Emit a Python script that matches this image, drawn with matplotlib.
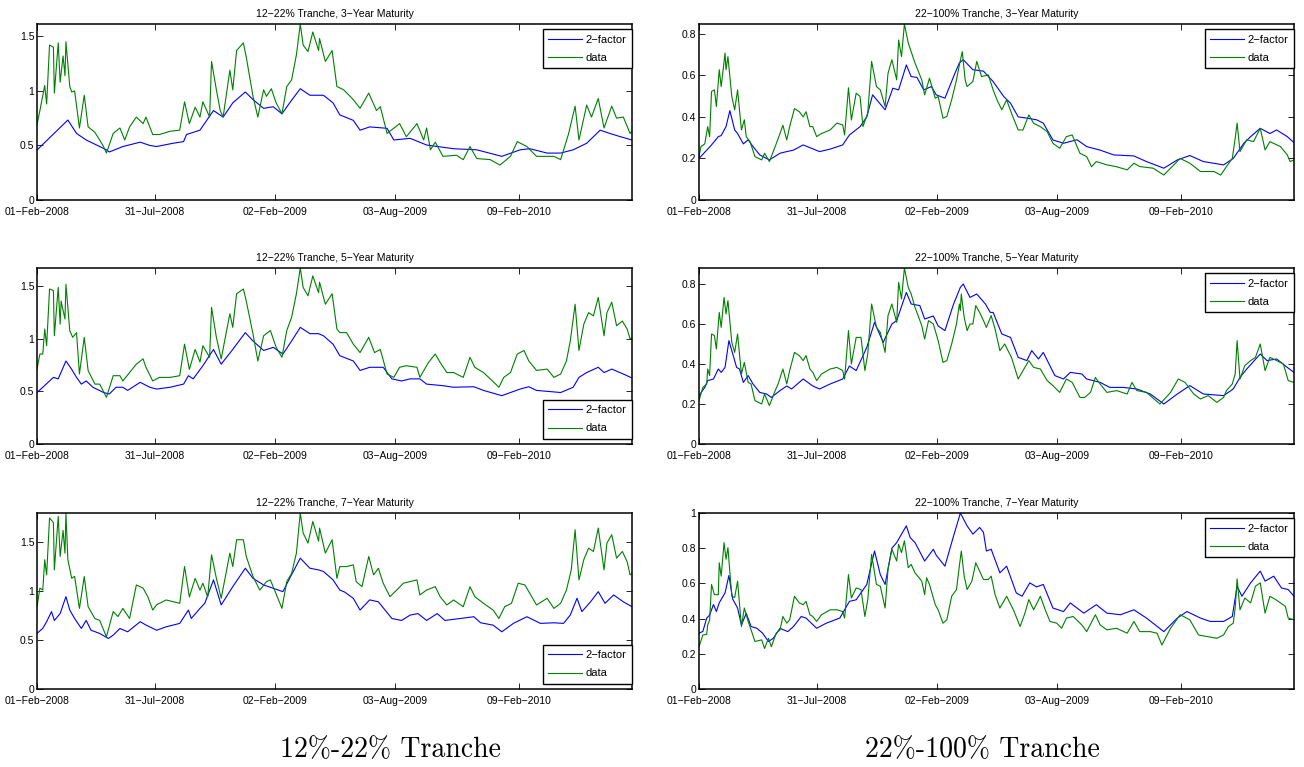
import matplotlib
matplotlib.use('Agg')
import matplotlib.pyplot as plt
from matplotlib.ticker import FuncFormatter

plt.rcParams['font.family'] = ['Liberation Sans', 'DejaVu Sans']

# ---------------- shared axis data ----------------
n_days = 617
tick_pos = [0, 122, 247, 371, 500]
tick_labels = ['01−Feb−2008', '31−Jul−2008', '02−Feb−2009', '03−Aug−2009', '09−Feb−2010']
series_names = ['2−factor', 'data']
captions = ['12%-22% Tranche', '22%-100% Tranche']

# ---------------- 12-22% tranche, 3-year ----------------
p1_fac_x = [0, 32, 41, 51, 65, 72, 75, 89, 107, 117, 124, 141, 152, 155, 169, 183, 193, 203, 216, 224, 235, 245, 254, 262, 273, 283, 292,
            297, 307, 314, 328, 335, 345, 363, 370, 387, 404, 432, 456, 482, 501, 511, 529, 543, 556, 570, 584, 594, 605, 617]
p1_fac_y = [0.458, 0.733, 0.61, 0.55, 0.49, 0.46, 0.44, 0.49, 0.53, 0.50, 0.49, 0.52, 0.535, 0.6, 0.64, 0.82, 0.76, 0.89, 0.99, 0.92, 0.84, 0.855, 0.79, 0.89, 1.02, 0.96, 0.96,
            0.96, 0.89, 0.78, 0.73, 0.64, 0.67, 0.657, 0.55, 0.565, 0.504, 0.47, 0.46, 0.40, 0.46, 0.47, 0.43, 0.43, 0.46, 0.52, 0.64, 0.61, 0.58, 0.55]
p1_dat_x = [0, 3, 8, 10, 13, 17, 18, 22, 24, 27, 29, 30, 34, 36, 39, 44, 49, 53, 60, 65, 69, 72, 79, 86, 91, 96, 103, 110, 113, 120, 127, 138, 148,
            153, 158, 164, 169, 172, 179, 181, 186, 190, 193, 200, 203, 207, 214, 217, 224, 229, 235, 238, 243, 248, 254, 259, 264, 269, 273, 276, 281, 286, 292,
            293, 299, 306, 311, 318, 328, 335, 344, 352, 356, 363, 376, 383, 394, 401, 404, 408, 413, 421, 435, 442, 449, 456, 470, 480, 491, 498, 508, 518,
            536, 543, 551, 558, 562, 570, 575, 582, 588, 596, 601, 608, 615, 617]
p1_dat_y = [0.69, 0.82, 1.05, 0.88, 1.42, 1.40, 0.98, 1.44, 1.08, 1.32, 1.14, 1.45, 1.04, 0.99, 1.0, 0.66, 0.96, 0.67, 0.62, 0.55, 0.49, 0.43, 0.61, 0.66, 0.55, 0.67, 0.76, 0.70, 0.76, 0.6, 0.6, 0.63, 0.64,
            0.90, 0.70, 0.85, 0.76, 0.90, 0.76, 1.27, 1.01, 0.82, 0.76, 1.19, 1.01, 1.37, 1.44, 1.31, 0.95, 0.76, 1.01, 0.95, 1.02, 0.89, 0.79, 1.04, 1.10, 1.33, 1.613, 1.42, 1.36, 1.54, 1.37,
            1.48, 1.27, 1.37, 1.04, 1.01, 0.92, 0.84, 0.98, 0.82, 0.855, 0.61, 0.70, 0.58, 0.70, 0.55, 0.66, 0.46, 0.53, 0.40, 0.41, 0.37, 0.49, 0.38, 0.37, 0.32, 0.40, 0.535, 0.49, 0.40,
            0.40, 0.37, 0.60, 0.86, 0.55, 0.87, 0.76, 0.93, 0.66, 0.86, 0.75, 0.76, 0.61, 0.63]

# ---------------- 22-100% tranche, 3-year ----------------
p2_fac_x = [0, 8, 13, 20, 23, 28, 32, 37, 40, 46, 51, 56, 63, 73, 84, 91, 98, 108, 125, 136, 149, 156, 167, 174, 180, 193, 201, 207, 215, 220, 226, 233, 241, 246, 255, 264, 270,
            274, 284, 295, 305, 316, 323, 331, 340, 350, 357, 367, 378, 392, 402, 416, 430, 451, 464, 482, 496, 509, 523, 544, 554, 565, 572, 582, 592, 599, 610, 617]
p2_fac_y = [0.20, 0.24, 0.265, 0.305, 0.31, 0.353, 0.43, 0.337, 0.32, 0.27, 0.29, 0.257, 0.217, 0.193, 0.225, 0.233, 0.24, 0.265, 0.233, 0.245, 0.265, 0.313, 0.353, 0.40, 0.506, 0.434, 0.538, 0.53, 0.65, 0.594, 0.59, 0.53, 0.546, 0.506, 0.49, 0.594, 0.66,
            0.675, 0.627, 0.62, 0.57, 0.498, 0.466, 0.40, 0.394, 0.386, 0.37, 0.289, 0.273, 0.29, 0.257, 0.24, 0.217, 0.212, 0.185, 0.153, 0.193, 0.214, 0.185, 0.169, 0.20, 0.273, 0.305, 0.345, 0.32, 0.337, 0.305, 0.276]
p2_dat_x = [0, 2, 6, 9, 11, 13, 16, 18, 21, 23, 27, 28, 30, 34, 37, 40, 44, 47, 49, 53, 58, 65, 68, 73, 79, 84, 87, 91, 94, 99, 104, 108, 111, 115, 118, 122, 127, 136, 143,
            149, 151, 155, 158, 163, 167, 170, 175, 179, 184, 188, 193, 196, 200, 205, 207, 210, 213, 217, 220, 224, 231, 234, 239, 245, 248, 253, 257, 262, 267, 270,
            273, 276, 278, 284, 288, 293, 300, 305, 309, 314, 319, 324, 331, 336, 342, 347, 354, 361, 367, 374, 381, 387, 395, 402, 407, 412, 423, 433, 444, 451, 457,
            471, 482, 489, 499, 509, 520, 534, 541, 547, 553, 556, 558, 561, 568, 575, 582, 587, 592, 603, 610, 613, 617]
p2_dat_y = [0.209, 0.257, 0.27, 0.353, 0.305, 0.522, 0.53, 0.45, 0.627, 0.546, 0.707, 0.627, 0.69, 0.498, 0.434, 0.53, 0.337, 0.386, 0.305, 0.28, 0.209, 0.193, 0.225, 0.185, 0.257, 0.32, 0.36, 0.289, 0.353, 0.44, 0.425, 0.40, 0.425, 0.353, 0.353, 0.305, 0.32, 0.337, 0.37,
            0.361, 0.313, 0.54, 0.385, 0.514, 0.498, 0.353, 0.418, 0.667, 0.546, 0.53, 0.45, 0.61, 0.675, 0.578, 0.77, 0.69, 0.847, 0.755, 0.714, 0.659, 0.578, 0.506, 0.586, 0.49, 0.498, 0.394, 0.402, 0.482, 0.578, 0.65,
            0.714, 0.578, 0.546, 0.57, 0.667, 0.594, 0.602, 0.53, 0.482, 0.434, 0.482, 0.418, 0.337, 0.337, 0.41, 0.369, 0.353, 0.329, 0.273, 0.249, 0.305, 0.313, 0.225, 0.209, 0.16, 0.185, 0.169, 0.16, 0.145, 0.177, 0.161,
            0.153, 0.12, 0.153, 0.2, 0.177, 0.137, 0.137, 0.12, 0.161, 0.2, 0.297, 0.37, 0.233, 0.29, 0.281, 0.345, 0.241, 0.281, 0.257, 0.217, 0.185, 0.193]

# ---------------- 12-22% tranche, 5-year ----------------
p3_fac_x = [0, 6, 17, 22, 30, 36, 41, 46, 51, 58, 69, 75, 82, 89, 94, 107, 117, 124, 138, 152, 157, 162, 172, 183, 191, 203, 216, 224, 235, 245, 255, 264, 273, 283, 292,
            297, 307, 314, 328, 335, 345, 359, 368, 378, 387, 397, 404, 421, 432, 453, 463, 482, 501, 510, 518, 543, 556, 562, 570, 582, 588, 596, 608, 617]
p3_fac_y = [0.49, 0.54, 0.634, 0.62, 0.79, 0.71, 0.634, 0.57, 0.60, 0.54, 0.49, 0.476, 0.54, 0.54, 0.51, 0.587, 0.54, 0.523, 0.54, 0.57, 0.65, 0.62, 0.745, 0.90, 0.76, 0.90, 1.06, 0.98, 0.89, 0.92, 0.856, 0.98, 1.11, 1.05, 1.05,
            1.03, 0.95, 0.84, 0.79, 0.70, 0.73, 0.73, 0.62, 0.60, 0.62, 0.62, 0.57, 0.555, 0.54, 0.545, 0.51, 0.46, 0.523, 0.545, 0.51, 0.49, 0.54, 0.634, 0.68, 0.73, 0.68, 0.713, 0.666, 0.628]
p3_dat_x = [0, 3, 6, 8, 10, 13, 17, 18, 22, 24, 25, 29, 30, 34, 37, 41, 44, 49, 53, 60, 65, 72, 79, 86, 89, 96, 103, 110, 113, 120, 127, 138, 148,
            153, 158, 164, 169, 172, 179, 181, 186, 191, 200, 203, 207, 214, 217, 224, 229, 235, 242, 248, 254, 259, 264, 269, 273, 276, 281, 286, 292,
            293, 299, 306, 311, 314, 321, 328, 335, 344, 350, 356, 363, 370, 376, 383, 394, 397, 406, 413, 418, 425, 432, 442, 449, 454, 463, 470, 479, 484,
            491, 498, 505, 510, 518, 529, 536, 543, 549, 553, 558, 562, 567, 572, 577, 582, 588, 591, 596, 601, 607, 612, 615, 617]
p3_dat_y = [0.714, 0.856, 0.856, 1.094, 0.936, 1.475, 1.46, 1.03, 1.49, 1.14, 1.36, 1.19, 1.52, 1.078, 1.015, 1.06, 0.666, 1.015, 0.70, 0.57, 0.57, 0.444, 0.65, 0.65, 0.60, 0.68, 0.76, 0.81, 0.73, 0.60, 0.634, 0.634, 0.65,
            0.95, 0.71, 0.90, 0.78, 0.935, 0.825, 1.30, 1.015, 0.81, 1.24, 1.11, 1.43, 1.475, 1.36, 1.046, 0.79, 1.03, 1.08, 0.92, 0.825, 1.08, 1.205, 1.43, 1.675, 1.49, 1.41, 1.60, 1.44,
            1.54, 1.33, 1.43, 1.094, 1.06, 1.06, 0.95, 0.87, 1.015, 0.87, 0.90, 0.666, 0.634, 0.73, 0.745, 0.73, 0.634, 0.777, 0.856, 0.777, 0.68, 0.68, 0.634, 0.825, 0.73, 0.68, 0.62, 0.54, 0.634,
            0.68, 0.856, 0.89, 0.79, 0.70, 0.713, 0.634, 0.666, 0.79, 0.98, 1.33, 0.89, 1.14, 1.25, 1.22, 1.395, 1.03, 1.25, 1.35, 1.126, 1.17, 1.094, 1.0, 1.01]

# ---------------- 22-100% tranche, 5-year ----------------
p4_fac_x = [0, 6, 9, 15, 20, 23, 27, 31, 35, 39, 42, 46, 51, 56, 63, 70, 75, 84, 91, 96, 108, 118, 125, 136, 149, 156, 163, 174, 182, 191, 200, 205, 215, 220, 229, 234, 243, 248, 255, 264,
            271, 274, 281, 288, 297, 302, 305, 314, 323, 331, 340, 345, 352, 357, 369, 378, 385, 397, 402, 416, 426, 440, 454, 468, 482, 496, 509, 523, 544, 554, 561, 568, 582, 589, 599, 610, 617]
p4_fac_y = [0.242, 0.283, 0.317, 0.325, 0.375, 0.358, 0.383, 0.517, 0.45, 0.383, 0.375, 0.308, 0.342, 0.30, 0.258, 0.25, 0.233, 0.267, 0.29, 0.275, 0.325, 0.29, 0.275, 0.30, 0.325, 0.39, 0.367, 0.483, 0.608, 0.508, 0.60, 0.617, 0.758, 0.70, 0.692, 0.625, 0.64, 0.59, 0.567, 0.70,
            0.783, 0.80, 0.733, 0.75, 0.70, 0.658, 0.658, 0.55, 0.533, 0.433, 0.417, 0.467, 0.425, 0.458, 0.342, 0.325, 0.358, 0.35, 0.325, 0.308, 0.283, 0.283, 0.275, 0.25, 0.20, 0.25, 0.292, 0.25, 0.242, 0.275, 0.333, 0.375, 0.45, 0.417, 0.425, 0.383, 0.358]
p4_dat_x = [0, 4, 8, 9, 11, 13, 16, 18, 21, 23, 26, 28, 30, 34, 37, 40, 44, 47, 51, 54, 58, 65, 68, 73, 79, 82, 87, 91, 94, 99, 104, 108, 111, 115, 118, 122, 127, 136, 143,
            149, 151, 155, 158, 163, 168, 172, 175, 179, 184, 188, 193, 196, 200, 205, 207, 210, 213, 217, 220, 224, 231, 234, 238, 243, 248, 253, 257, 262, 267, 270,
            271, 272, 275, 278, 281, 284, 287, 291, 295, 298, 303, 307, 312, 317, 324, 331, 336, 342, 347, 354, 361, 367, 374, 381, 387, 395, 400, 406, 411, 416, 423,
            433, 444, 449, 454, 464, 478, 489, 497, 504, 513, 520, 528, 537, 544, 547, 553, 556, 558, 561, 566, 572, 577, 582, 587, 592, 599, 606, 611, 617]
p4_dat_y = [0.217, 0.283, 0.30, 0.375, 0.342, 0.55, 0.542, 0.475, 0.658, 0.583, 0.733, 0.65, 0.717, 0.508, 0.458, 0.55, 0.35, 0.408, 0.308, 0.30, 0.217, 0.20, 0.25, 0.192, 0.267, 0.30, 0.375, 0.30, 0.367, 0.458, 0.442, 0.417, 0.442, 0.375, 0.358, 0.317, 0.35, 0.375, 0.383,
            0.367, 0.325, 0.567, 0.40, 0.533, 0.533, 0.367, 0.45, 0.70, 0.583, 0.558, 0.458, 0.642, 0.70, 0.608, 0.808, 0.725, 0.88, 0.783, 0.75, 0.683, 0.592, 0.525, 0.617, 0.60, 0.517, 0.408, 0.417, 0.50, 0.60, 0.70,
            0.667, 0.75, 0.633, 0.567, 0.60, 0.60, 0.692, 0.658, 0.617, 0.583, 0.642, 0.575, 0.467, 0.50, 0.433, 0.325, 0.367, 0.417, 0.383, 0.375, 0.317, 0.292, 0.258, 0.325, 0.308, 0.233, 0.233, 0.258, 0.333, 0.30, 0.258,
            0.267, 0.25, 0.308, 0.267, 0.258, 0.20, 0.258, 0.325, 0.308, 0.25, 0.225, 0.242, 0.208, 0.233, 0.267, 0.30, 0.35, 0.517, 0.325, 0.392, 0.417, 0.433, 0.50, 0.367, 0.433, 0.417, 0.40, 0.317, 0.308]

# ---------------- 12-22% tranche, 7-year ----------------
p5_fac_x = [0, 6, 10, 15, 18, 24, 30, 34, 39, 46, 51, 56, 65, 74, 79, 86, 94, 107, 113, 124, 134, 148, 157, 160, 169, 174, 183, 191, 203, 216, 224, 235, 245, 255, 262, 273, 283, 292,
            297, 307, 314, 319, 328, 335, 345, 354, 368, 378, 387, 395, 404, 415, 423, 439, 453, 460, 473, 482, 494, 508, 522, 536, 546, 553, 560, 565, 574, 582, 589, 598, 608, 617]
p5_fac_y = [0.567, 0.62, 0.687, 0.79, 0.70, 0.77, 0.943, 0.806, 0.72, 0.618, 0.70, 0.60, 0.567, 0.516, 0.55, 0.618, 0.584, 0.687, 0.653, 0.60, 0.635, 0.67, 0.806, 0.72, 0.823, 0.875, 1.114, 0.858, 1.045, 1.233, 1.13, 1.062, 1.028, 0.994, 1.13, 1.336, 1.233, 1.216,
            1.20, 1.114, 1.01, 0.99, 0.926, 0.806, 0.91, 0.89, 0.72, 0.70, 0.755, 0.77, 0.70, 0.77, 0.70, 0.72, 0.738, 0.676, 0.652, 0.584, 0.67, 0.738, 0.67, 0.676, 0.67, 0.755, 0.926, 0.79, 0.89, 0.994, 0.875, 0.96, 0.89, 0.84]
p5_dat_x = [0, 3, 6, 8, 10, 13, 17, 18, 22, 24, 27, 29, 30, 32, 36, 39, 44, 49, 53, 60, 65, 72, 79, 84, 89, 96, 103, 110, 115, 120, 124, 134, 148,
            153, 158, 164, 169, 172, 177, 181, 186, 191, 200, 203, 207, 214, 217, 224, 231, 238, 242, 247, 254, 259, 264, 269, 273, 276, 281, 286, 292,
            293, 299, 306, 311, 314, 321, 328, 331, 337, 344, 349, 354, 359, 366, 373, 380, 387, 394, 397, 404, 413, 418, 425, 432, 442, 449, 454, 463, 473, 479, 485,
            492, 499, 506, 511, 518, 529, 536, 543, 549, 554, 558, 562, 567, 572, 577, 582, 588, 591, 596, 601, 607, 612, 615, 617]
p5_dat_y = [0.84, 1.03, 1.01, 1.32, 1.165, 1.746, 1.70, 1.216, 1.763, 1.353, 1.62, 1.387, 1.797, 1.32, 1.13, 1.15, 0.823, 1.148, 0.84, 0.72, 0.70, 0.533, 0.79, 0.74, 0.823, 0.72, 1.062, 1.03, 0.94, 0.806, 0.86, 0.909, 0.875,
            1.25, 0.94, 1.13, 1.01, 1.08, 0.94, 1.37, 1.13, 0.926, 1.387, 1.25, 1.524, 1.524, 1.353, 1.148, 1.01, 1.097, 1.114, 0.994, 0.823, 1.097, 1.18, 1.387, 1.797, 1.592, 1.49, 1.71, 1.51,
            1.643, 1.387, 1.524, 1.13, 1.25, 1.25, 1.267, 1.097, 1.045, 1.353, 1.165, 1.233, 1.08, 0.943, 1.01, 1.08, 1.097, 1.114, 0.96, 1.01, 1.045, 0.943, 0.858, 0.909, 0.84, 1.045, 0.943, 0.875, 0.806, 0.72, 0.84,
            0.875, 1.08, 1.062, 0.977, 0.858, 0.926, 0.823, 0.875, 1.01, 1.216, 1.626, 1.114, 1.32, 1.438, 1.404, 1.643, 1.216, 1.49, 1.575, 1.336, 1.404, 1.30, 1.165, 1.18]

# ---------------- 22-100% tranche, 7-year ----------------
p6_fac_x = [0, 4, 8, 11, 15, 18, 21, 27, 31, 35, 40, 44, 49, 54, 60, 66, 72, 77, 84, 92, 98, 106, 111, 122, 132, 146, 156, 163, 174, 182, 188, 193, 200, 205, 215, 219, 224, 234, 243, 246, 255, 264, 270,
            271, 278, 284, 291, 295, 298, 303, 312, 319, 329, 335, 343, 350, 357, 367, 378, 385, 399, 412, 423, 437, 451, 464, 482, 496, 506, 520, 530, 544, 553, 558, 563, 572, 582, 587, 596, 604, 611, 617]
p6_fac_y = [0.317, 0.327, 0.403, 0.42, 0.48, 0.44, 0.49, 0.546, 0.645, 0.51, 0.46, 0.364, 0.43, 0.355, 0.345, 0.317, 0.27, 0.288, 0.345, 0.326, 0.355, 0.412, 0.403, 0.345, 0.374, 0.403, 0.498, 0.507, 0.594, 0.784, 0.65, 0.594, 0.80, 0.832, 0.927, 0.86, 0.832, 0.727, 0.794, 0.76, 0.698, 0.87, 0.98,
            1.0, 0.927, 0.88, 0.918, 0.89, 0.784, 0.794, 0.66, 0.698, 0.546, 0.527, 0.603, 0.58, 0.594, 0.46, 0.44, 0.489, 0.431, 0.479, 0.431, 0.422, 0.45, 0.403, 0.326, 0.403, 0.44, 0.403, 0.384, 0.384, 0.412, 0.584, 0.527, 0.603, 0.67, 0.613, 0.641, 0.574, 0.565, 0.527]
p6_dat_x = [0, 4, 8, 9, 11, 13, 16, 20, 21, 23, 26, 28, 30, 34, 37, 40, 44, 47, 51, 54, 58, 65, 68, 72, 75, 80, 84, 87, 91, 94, 99, 104, 108, 111, 115, 118, 122, 127, 136, 143,
            149, 151, 155, 158, 163, 168, 172, 175, 179, 184, 188, 193, 196, 200, 205, 207, 210, 213, 217, 220, 224, 231, 234, 236, 239, 245, 248, 253, 257, 262, 267, 270,
            272, 275, 278, 283, 287, 291, 295, 300, 303, 307, 312, 319, 326, 333, 338, 342, 347, 354, 359, 364, 371, 376, 381, 388, 397, 402, 411, 416, 423,
            433, 444, 451, 457, 468, 475, 480, 489, 499, 509, 518, 527, 537, 544, 549, 554, 556, 558, 561, 566, 572, 577, 582, 587, 592, 598, 603, 608, 611, 617]
p6_dat_y = [0.24, 0.307, 0.31, 0.364, 0.39, 0.594, 0.536, 0.536, 0.717, 0.641, 0.832, 0.737, 0.803, 0.527, 0.52, 0.613, 0.355, 0.46, 0.384, 0.336, 0.27, 0.279, 0.23, 0.288, 0.24, 0.317, 0.336, 0.412, 0.374, 0.393, 0.527, 0.489, 0.479, 0.498, 0.422, 0.412, 0.384, 0.422, 0.45, 0.45,
            0.44, 0.403, 0.65, 0.517, 0.574, 0.565, 0.412, 0.508, 0.765, 0.594, 0.584, 0.46, 0.68, 0.794, 0.727, 0.822, 0.775, 0.842, 0.689, 0.708, 0.66, 0.613, 0.536, 0.632, 0.594, 0.479, 0.45, 0.374, 0.393, 0.527, 0.565, 0.70,
            0.784, 0.641, 0.565, 0.613, 0.717, 0.67, 0.622, 0.622, 0.641, 0.536, 0.46, 0.527, 0.45, 0.355, 0.431, 0.508, 0.45, 0.527, 0.45, 0.384, 0.374, 0.345, 0.403, 0.412, 0.364, 0.326, 0.422, 0.364, 0.336,
            0.345, 0.317, 0.384, 0.326, 0.326, 0.317, 0.25, 0.345, 0.422, 0.393, 0.307, 0.298, 0.288, 0.307, 0.355, 0.374, 0.46, 0.626, 0.45, 0.517, 0.489, 0.584, 0.603, 0.431, 0.527, 0.508, 0.489, 0.47, 0.403, 0.393]

titles = ['12−22% Tranche, 3−Year Maturity', '22−100% Tranche, 3−Year Maturity',
          '12−22% Tranche, 5−Year Maturity', '22−100% Tranche, 5−Year Maturity',
          '12−22% Tranche, 7−Year Maturity', '22−100% Tranche, 7−Year Maturity']
y_steps = [0.5, 0.2, 0.5, 0.2, 0.5, 0.2]
legend_upper = [True, True, False, True, False, True]
panels = [(p1_fac_x, p1_fac_y, p1_dat_x, p1_dat_y),
          (p2_fac_x, p2_fac_y, p2_dat_x, p2_dat_y),
          (p3_fac_x, p3_fac_y, p3_dat_x, p3_dat_y),
          (p4_fac_x, p4_fac_y, p4_dat_x, p4_dat_y),
          (p5_fac_x, p5_fac_y, p5_dat_x, p5_dat_y),
          (p6_fac_x, p6_fac_y, p6_dat_x, p6_dat_y)]

W, H = 1304, 767
fig = plt.figure(figsize=(W / 100, H / 100), dpi=100)
fig.patch.set_facecolor('white')

col_left = [37, 699]
row_top = [24, 268, 513]
ax_w, ax_h = 595, 176

fmt = FuncFormatter(lambda v, p: ('%g' % round(v, 6)).replace('-', '−'))
gap = 5 / ax_h

for i, (fx, fy, dx, dy) in enumerate(panels):
    r, c = divmod(i, 2)
    ax = fig.add_axes([col_left[c] / W, 1 - (row_top[r] + ax_h) / H, ax_w / W, ax_h / H])
    ax.plot(fx, fy, color=(0, 0, 1), lw=0.8, label=series_names[0])
    ax.plot(dx, dy, color=(0, 0.5, 0), lw=0.8, label=series_names[1])
    ytop = max(max(fy), max(dy))
    ax.set_xlim(0, n_days)
    ax.set_ylim(0, ytop)
    ax.set_xticks(tick_pos)
    ax.set_xticklabels(tick_labels)
    step = y_steps[i]
    yt = []
    k = 0
    while k * step <= ytop + 1e-9:
        yt.append(k * step)
        k += 1
    ax.set_yticks(yt)
    ax.yaxis.set_major_formatter(fmt)
    ax.tick_params(direction='in', length=4, width=0.6, labelsize=7.5, top=True, right=True)
    ax.tick_params(axis='x', pad=5)
    ax.tick_params(axis='y', pad=2)
    for s in ax.spines.values():
        s.set_linewidth(1.1)
    ax.set_title(titles[i], fontsize=7.5, pad=5)
    if legend_upper[i]:
        loc, anchor = 'upper right', (1, 1 - gap)
    else:
        loc, anchor = 'lower right', (1, gap)
    leg = ax.legend(loc=loc, bbox_to_anchor=anchor, borderaxespad=0, fontsize=8, fancybox=False,
                    framealpha=1, edgecolor='black', handlelength=3.0, borderpad=0.5,
                    labelspacing=0.75, handletextpad=0.35)
    leg.get_frame().set_linewidth(1.0)

fig.text(390 / W, 1 - 750 / H, captions[0], ha='center', va='center', fontsize=20, family='cmr10')
fig.text(982 / W, 1 - 750 / H, captions[1], ha='center', va='center', fontsize=20, family='cmr10')

fig.savefig('out.png', dpi=100)
